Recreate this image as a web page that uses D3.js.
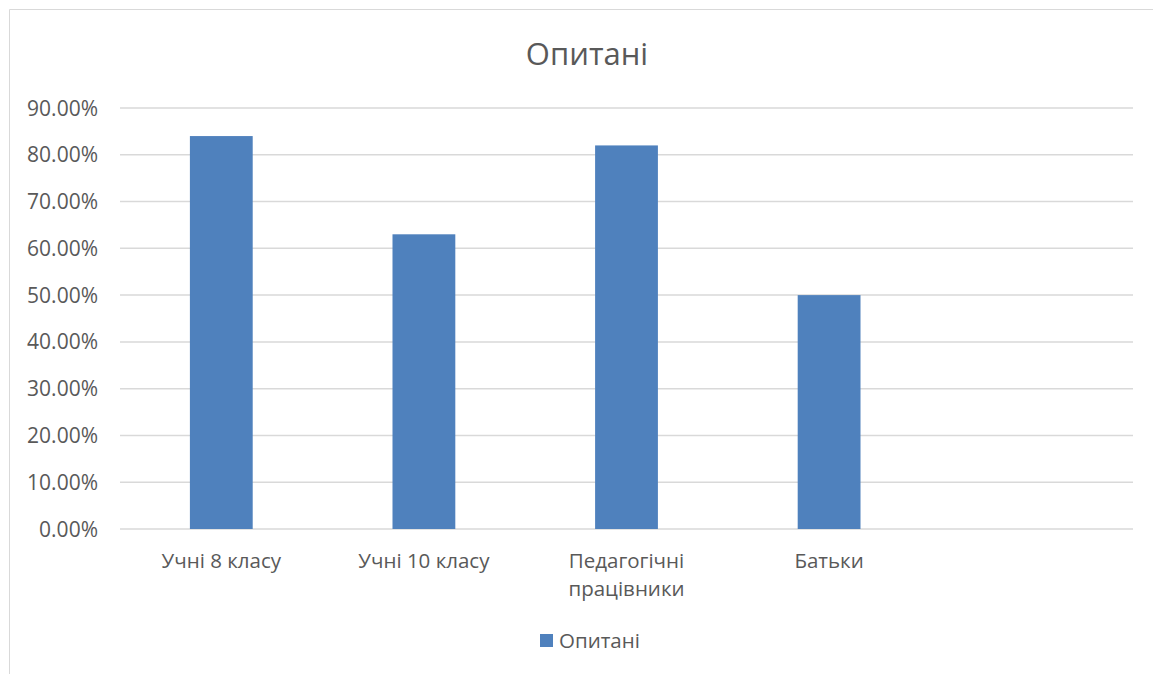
<!DOCTYPE html>
<meta charset="utf-8">
<title>Опитані</title>
<style>
body {
  margin: 0px;
  background: #fff;
}
svg text {
  font-family: "Open Sans", "Noto Sans", sans-serif;
  fill: #595959;
}
.grid line {
  stroke: #d9d9d9;
  stroke-width: 1.5;
}
</style>
<script src="https://d3js.org/d3.v7.min.js"></script>
<body>
<script>
var width = 1153, height = 674;

// data
var categories = ["Учні 8 класу", "Учні 10 класу", "Педагогічні працівники", "Батьки", ""];
var values = [0.84, 0.63, 0.82, 0.50, null];
var yTicks = [0, 0.1, 0.2, 0.3, 0.4, 0.5, 0.6, 0.7, 0.8, 0.9];
var seriesName = "Опитані";

var svg = d3.select("body").append("svg")
    .attr("width", width)
    .attr("height", height);

// chart border (only top and left edges show in the picture)
svg.append("path")
    .attr("d", "M9.5,674 V9.5 H1153")
    .attr("fill", "none")
    .attr("stroke", "#d9d9d9")
    .attr("stroke-width", 1);

var x = d3.scaleBand()
    .domain(d3.range(categories.length))
    .range([120, 1133])
    .paddingInner(0.69)
    .paddingOuter(0.345);

var y = d3.scaleLinear()
    .domain([0, 0.9])
    .range([529, 108]);

var fmt = d3.format(".2%");

// gridlines
svg.append("g")
    .attr("class", "grid")
  .selectAll("line")
    .data(yTicks)
  .enter().append("line")
    .attr("x1", 120)
    .attr("x2", 1133)
    .attr("y1", function(d) { return y(d); })
    .attr("y2", function(d) { return y(d); });

// y labels
svg.append("g").selectAll("text")
    .data(yTicks)
  .enter().append("text")
    .attr("x", 98)
    .attr("y", function(d) { return y(d); })
    .attr("dy", "0.36em")
    .attr("text-anchor", "end")
    .style("font-size", "21px")
    .text(fmt);

// bars
svg.append("g").selectAll("rect")
    .data(values.map(function(v, i) { return {v: v, i: i}; }).filter(function(d) { return d.v != null; }))
  .enter().append("rect")
    .attr("x", function(d) { return x(d.i); })
    .attr("width", x.bandwidth())
    .attr("y", function(d) { return y(d.v); })
    .attr("height", function(d) { return y(0) - y(d.v); })
    .attr("fill", "#4f81bd");

// category labels, wrapped like excel does
var labels = svg.append("g").selectAll("text")
    .data(categories)
  .enter().append("text")
    .attr("x", function(d, i) { return x(i) + x.bandwidth() / 2; })
    .attr("y", 568)
    .attr("text-anchor", "middle")
    .style("font-size", "20.5px");
labels.each(function(d) {
  var t = d3.select(this);
  var lines = (d.length > 14) ? d.split(" ") : [d];
  lines.forEach(function(w, k) {
    t.append("tspan")
        .attr("x", t.attr("x"))
        .attr("dy", k === 0 ? 0 : 28)
        .text(w);
  });
});

// title
svg.append("text")
    .attr("x", 587)
    .attr("y", 65)
    .attr("text-anchor", "middle")
    .style("font-size", "31px")
    .text(seriesName);

// legend
var legend = svg.append("g")
    .attr("transform", "translate(540,634)");
legend.append("rect")
    .attr("x", 0)
    .attr("y", 0)
    .attr("width", 13)
    .attr("height", 13)
    .attr("fill", "#4f81bd");
legend.append("text")
    .attr("x", 19)
    .attr("y", 14)
    .style("font-size", "20.5px")
    .text(seriesName);
</script>
</body>
